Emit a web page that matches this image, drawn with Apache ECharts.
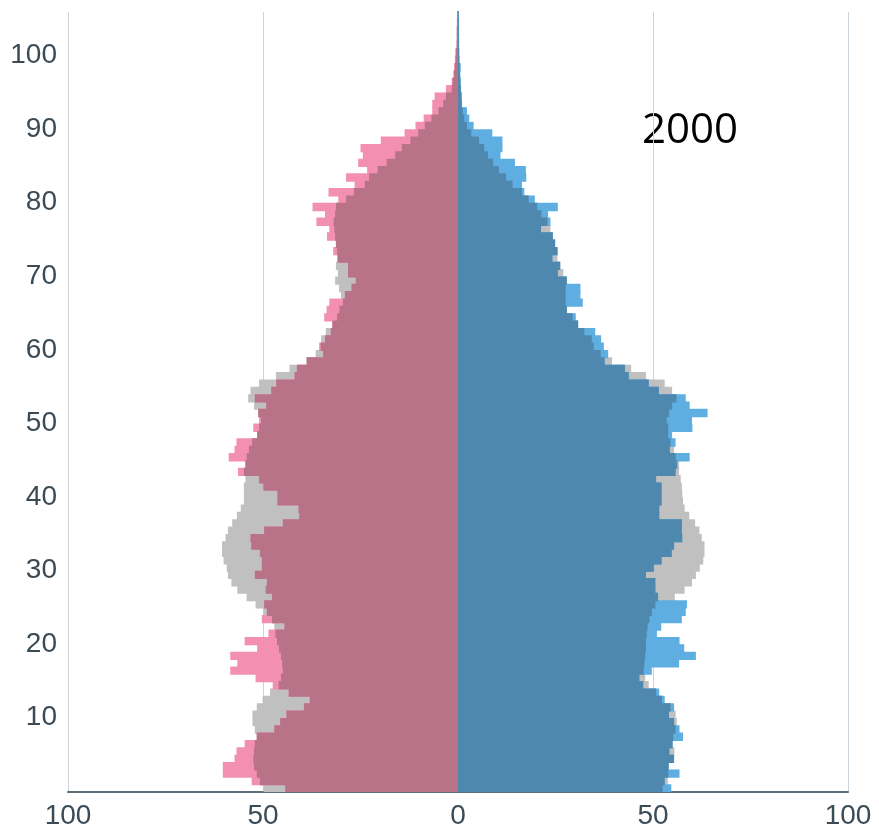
<!DOCTYPE html>
<html>
<head>
<meta charset="utf-8">
<script src="https://cdn.jsdelivr.net/npm/echarts@6/dist/echarts.min.js"></script>
<style>
  html, body { margin: 0; padding: 0; background: #fff; }
  #chart { width: 879px; height: 833px; }
</style>
</head>
<body>
<div id="chart"></div>
<script>
// ages 0..105
var ages = [];
for (var a = 0; a <= 105; a++) ages.push(String(a));

// 2000 (coloured) and comparison profile (grey)
var female2000 = [44.3,52.9,60.3,60.3,57.3,56.8,54.7,51.6,47.1,45.6,
  44.0,39.5,38.0,43.4,47.5,51.9,58.4,56.6,58.4,51.5,
  54.7,48.6,44.5,50.3,49.0,49.7,47.7,49.3,49.0,52.1,
  50.3,50.3,50.8,53.0,53.2,49.7,44.9,40.7,40.9,46.3,
  46.3,49.9,51.0,56.4,54.5,58.8,57.3,56.8,51.5,52.5,
  51.0,51.2,49.2,52.1,47.9,46.6,41.9,41.3,38.8,34.6,
  35.6,34.1,32.6,32.2,34.3,33.7,33.0,29.0,27.3,26.2,
  28.2,28.2,31.0,32.0,31.3,33.6,33.0,36.3,34.1,37.3,
  30.7,33.2,26.5,28.7,23.3,25.6,24.4,25.0,19.8,13.7,
  10.9,8.8,6.6,6.6,6.0,3.1,1.6,1.2,1.0,0.8,
  0.7,0.4,0.3,0.3,0.3,0.2];
var femaleRef = [49.9,50.8,51.6,52.3,52.5,52.3,52.1,51.6,52.1,52.7,
  52.7,51.6,50.1,48.2,46.0,45.4,44.9,45.1,45.4,45.9,
  46.4,46.8,47.1,47.7,49.9,51.9,54.2,56.6,58.1,59.0,
  59.3,60.1,60.5,60.5,59.6,59.0,57.9,56.7,55.7,54.9,
  54.9,54.9,54.5,54.9,54.5,54.2,53.6,52.8,51.5,51.0,
  50.5,51.2,52.3,53.8,53.2,51.0,46.7,43.2,38.8,36.5,
  35.2,35.1,33.9,32.2,31.0,30.4,29.5,30.0,30.5,31.5,
  30.8,31.3,30.8,31.0,31.3,31.5,31.7,31.9,31.5,31.3,
  28.7,26.7,23.9,22.8,20.6,18.3,16.1,14.4,12.2,10.2,
  8.5,6.8,5.0,3.8,3.1,1.6,1.4,1.0,0.8,0.6,
  0.5,0.3,0.3,0.3,0.2,0.2];
var male2000 = [54.7,53.0,56.8,54.0,55.4,54.2,55.0,57.7,56.8,55.4,
  54.1,55.4,53.0,51.6,47.5,46.5,49.7,56.7,61.0,58.0,
  56.8,51.0,52.1,57.4,58.4,58.7,51.3,50.6,50.6,48.2,
  50.2,52.2,54.8,55.4,57.5,57.4,57.4,51.6,51.6,52.2,
  52.2,52.2,50.8,55.8,56.2,59.4,54.3,55.8,54.9,60.1,
  60.0,64.0,59.4,58.4,51.5,48.9,43.8,42.8,37.6,38.5,
  37.4,36.7,35.2,30.8,30.2,27.9,32.0,31.4,31.4,27.9,
  25.6,26.2,24.2,25.5,24.9,24.3,21.3,23.7,23.1,25.6,
  19.7,17.0,16.4,17.5,17.4,14.6,10.9,11.4,11.4,8.8,
  4.0,2.9,2.3,1.0,0.9,0.8,0.7,0.6,0.7,0.4,
  0.3,0.3,0.3,0.2,0.2,0.2];
var maleRef = [52.5,53.8,53.9,54.0,55.4,55.5,55.0,55.2,55.8,56.1,
  55.8,54.5,52.3,50.8,48.9,48.0,47.6,47.8,48.0,48.2,
  48.2,48.4,48.6,49.1,49.7,50.6,55.6,58.1,60.0,61.0,
  62.0,62.9,63.2,63.2,62.5,61.9,60.8,59.3,58.1,57.7,
  57.5,57.4,57.1,56.7,56.7,55.8,55.4,54.5,53.9,53.9,
  53.5,54.1,54.9,56.0,54.9,53.0,48.2,44.4,39.5,36.6,
  34.8,34.3,32.4,30.8,29.4,27.9,27.6,27.6,27.6,27.9,
  27.0,26.2,25.5,25.5,24.9,24.3,23.7,22.9,21.4,20.3,
  18.1,16.4,14.0,12.3,10.5,9.0,7.7,6.7,5.4,3.4,
  2.3,1.6,1.2,1.0,0.9,0.7,0.6,0.5,0.4,0.3,
  0.3,0.2,0.2,0.2,0.2,0.1];

var xTicks = [-100, -50, 0, 50, 100];
var yearLabel = "2000";

// females go to the left
function neg(arr) { return arr.map(function (v) { return -v; }); }
function overlap(a, b) { return a.map(function (v, i) { return Math.min(v, b[i]); }); }

function bar(name, data, color) {
  return {
    name: name,
    type: "bar",
    data: data,
    barGap: "-100%",
    barCategoryGap: 0,
    barWidth: "114%", // slight overlap so no light seams between age rows
    itemStyle: { color: color },
    silent: true
  };
}

var chart = echarts.init(document.getElementById("chart"));
chart.setOption({
  animation: false,
  grid: { left: 68, right: 31, top: 12, bottom: 41 },
  graphic: [{
    type: "text",
    left: 642,
    top: 110,
    style: { text: yearLabel, fontSize: 42, fontFamily: "Open Sans", fill: "#000" }
  }],
  xAxis: {
    type: "value",
    min: xTicks[0],
    max: xTicks[xTicks.length - 1],
    interval: 50,
    axisLine: { show: true, onZero: false, lineStyle: { color: "#5f6d77", width: 2 } },
    axisTick: { show: false },
    axisLabel: {
      color: "#3b4b56",
      fontSize: 28,
      fontFamily: "Liberation Sans",
      margin: 10,
      formatter: function (v) { return Math.abs(v); }
    },
    splitLine: { show: true, lineStyle: { color: "#c9d5db", width: 1 } }
  },
  yAxis: {
    type: "category",
    data: ages,
    boundaryGap: true,
    axisLine: { show: true, lineStyle: { color: "#5f6d77", width: 2 } },
    axisTick: { show: false },
    axisLabel: {
      margin: 11,
      interval: function (i) { return i > 0 && i % 10 === 0; },
      formatter: function (v) { return "{a|" + v + "}"; },
      rich: {
        a: {
          color: "#3b4b56",
          fontSize: 28,
          fontFamily: "Liberation Sans",
          padding: [6, 0, 0, 0]
        }
      }
    },
    splitLine: { show: false }
  },
  series: [
    bar("Frauen Vergleich", neg(femaleRef), "#c0c0c0"),
    bar("Frauen 2000", neg(female2000), "#f38fb0"),
    bar("Frauen beide", neg(overlap(female2000, femaleRef)), "#b87389"),
    bar("Männer Vergleich", maleRef, "#c0c0c0"),
    bar("Männer 2000", male2000, "#5eaee2"),
    bar("Männer beide", overlap(male2000, maleRef), "#4f88ae")
  ]
});
</script>
</body>
</html>
